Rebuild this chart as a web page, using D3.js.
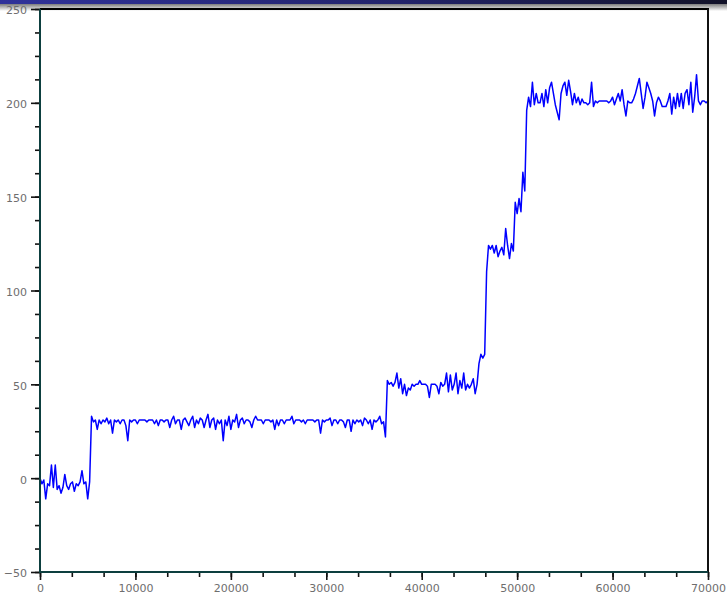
<!DOCTYPE html>
<html>
<head>
<meta charset="utf-8">
<script src="https://cdn.jsdelivr.net/npm/d3@7"></script>
<style>
  html, body { margin: 0; padding: 0; background: #ffffff; }
  svg { display: block; }
  .tick-label { font-family: "DejaVu Sans", sans-serif; font-size: 11px; fill: #6e6e6e; }
</style>
</head>
<body>
<svg id="chart" width="727" height="595"></svg>
<script>
// Sampling interval of the recorded signal (x units per sample)
const sampleStep = 200;

// Signal readings, grouped by operating level
const idleRun = [0, -3, -1, -11, -3, -4, 7, -5, 7, -6, -4, -8, -5, 2, -4, -6, -3, -2, -7, -3, -4, -2, 4, -3, -2, -11, -2];
const firstLevel = [
  33, 30, 31, 26, 31, 29, 31, 30, 32, 29,
  31, 24, 31, 30, 31, 29, 31, 31, 28, 20,
  31, 30, 31, 31, 29, 31, 31, 31, 31, 30,
  31, 31, 31, 29, 31, 28, 31, 31, 30, 31,
  31, 27, 31, 33, 29, 31, 31, 26, 31, 32,
  30, 28, 31, 33, 27, 31, 29, 32, 31, 27,
  31, 34, 27, 31, 32, 26, 31, 29, 31, 20,
  31, 28, 33, 26, 31, 30, 34, 27, 31, 32,
  29, 31, 31, 30, 27, 31, 33, 31, 31, 31,
  29, 31, 31, 31, 30, 31, 26, 31, 28, 31,
  31, 29, 31, 31, 31, 33, 29, 31, 31, 31,
  30, 31, 29, 31, 31, 31, 31, 30, 31, 31,
  24, 31, 30, 31, 31, 32, 28, 31, 31, 29,
  31, 31, 30, 27, 31, 31, 25, 31, 29, 31,
  30, 31, 28, 32, 31, 29, 31, 26, 31, 30,
  31, 33, 29, 30, 22
];
const secondLevel = [
  52, 50, 51, 49, 51, 56, 48, 53, 45, 50,
  44, 48, 47, 50, 49, 50, 50, 52, 50, 50,
  50, 49, 43, 50, 50, 50, 49, 45, 51, 49,
  50, 56, 46, 55, 47, 50, 56, 45, 52, 48,
  56, 47, 50, 48, 50, 53, 45, 50,
  61, 66, 64, 66, 110
];
const thirdLevel = [124, 122, 124, 120, 124, 118, 121, 123, 119, 133, 124, 117, 125, 121];
const rampUp = [147, 141, 149, 142, 163, 153, 196, 203, 198, 211];
const topLevel = [
  199, 205, 200, 200, 205, 198, 207, 200, 208, 211,
  205, 199, 195, 191, 205, 209, 211, 204, 212, 206,
  199, 205, 200, 203, 199, 202, 200, 200, 199, 200,
  211, 198, 201, 200, 201, 201, 201, 201, 201, 200,
  201, 203, 199, 202, 205, 201, 207, 199, 193, 201,
  200, 200, 202, 205, 209, 213, 205, 197, 203, 211,
  208, 205, 201, 193, 200, 203, 201, 198, 198, 198,
  201, 205, 194, 203, 197, 205, 198, 205, 197, 205,
  207, 199, 211, 195, 203, 215, 201, 199, 201, 201,
  200, 201
];

// Axis ticks
const xTicks = [0, 10000, 20000, 30000, 40000, 50000, 60000, 70000];
const xMinorTicks = d3.range(0, 70001, 10000 / 3);
const yTicks = [-50, 0, 50, 100, 150, 200, 250];
const yMinorTicks = d3.range(-50, 250.01, 12.5);

const signal = [].concat(idleRun, firstLevel, secondLevel, thirdLevel, rampUp, topLevel)
  .map((v, i) => ({ x: i * sampleStep, y: v }));

const svg = d3.select("#chart");
const W = 727;
const plot = { left: 40, right: 708, top: 9, bottom: 572 };

const x = d3.scaleLinear().domain([0, 70000]).range([plot.left, plot.right]);
const y = d3.scaleLinear().domain([-50, 250]).range([plot.bottom, plot.top]);

// Window header band
const defs = svg.append("defs");
const hg = defs.append("linearGradient").attr("id", "hdr").attr("x1", 0).attr("x2", 1).attr("y1", 0).attr("y2", 0);
hg.append("stop").attr("offset", "0%").attr("stop-color", "#30329a");
hg.append("stop").attr("offset", "55%").attr("stop-color", "#22236a");
hg.append("stop").attr("offset", "100%").attr("stop-color", "#121228");
const sg = defs.append("linearGradient").attr("id", "shade").attr("x1", 0).attr("x2", 0).attr("y1", 0).attr("y2", 1);
sg.append("stop").attr("offset", "0%").attr("stop-color", "#7c7c7c");
sg.append("stop").attr("offset", "100%").attr("stop-color", "#ffffff");

svg.append("rect").attr("x", 0).attr("y", 4).attr("width", W).attr("height", 7).attr("fill", "url(#shade)");
svg.append("rect").attr("x", 0).attr("y", 0).attr("width", W).attr("height", 4).attr("fill", "url(#hdr)");

// Signal trace
svg.append("path")
  .datum(signal)
  .attr("fill", "none")
  .attr("stroke", "#0000ff")
  .attr("stroke-width", 1.5)
  .attr("stroke-linejoin", "round")
  .attr("d", d3.line().x(d => x(d.x)).y(d => y(d.y)));

// Frame: top and right borders
svg.append("line").attr("x1", plot.left).attr("x2", plot.right + 1).attr("y1", plot.top).attr("y2", plot.top)
  .attr("stroke", "#000").attr("stroke-width", 2);
svg.append("line").attr("x1", plot.right).attr("x2", plot.right).attr("y1", plot.top).attr("y2", plot.bottom)
  .attr("stroke", "#111").attr("stroke-width", 2);

// Y axis: minor and major ticks
const yAxisG = svg.append("g");
yAxisG.append("g")
  .attr("transform", `translate(${plot.left},0)`)
  .call(d3.axisLeft(y).tickValues(yMinorTicks).tickSize(5).tickFormat(""))
  .call(g => g.select(".domain").remove())
  .selectAll("line").attr("stroke", "#111").attr("stroke-width", 1.6);
yAxisG.append("g")
  .attr("transform", `translate(${plot.left},0)`)
  .call(d3.axisLeft(y).tickValues(yTicks).tickSize(9).tickPadding(4).tickFormat(d3.format("d")))
  .call(g => g.select(".domain").remove())
  .call(g => g.selectAll("line").attr("stroke", "#111").attr("stroke-width", 1.6))
  .call(g => g.selectAll("text").attr("class", "tick-label").attr("dy", "0.45em")
    .text(d => d < 0 ? "\u2212" + Math.abs(d) : d));

// X axis: minor and major ticks
const xAxisG = svg.append("g");
xAxisG.append("g")
  .attr("transform", `translate(0,${plot.bottom})`)
  .call(d3.axisBottom(x).tickValues(xMinorTicks).tickSize(5).tickFormat(""))
  .call(g => g.select(".domain").remove())
  .selectAll("line").attr("stroke", "#111").attr("stroke-width", 1.6);
xAxisG.append("g")
  .attr("transform", `translate(0,${plot.bottom})`)
  .call(d3.axisBottom(x).tickValues(xTicks).tickSize(8).tickPadding(4).tickFormat(d3.format("d")))
  .call(g => g.select(".domain").remove())
  .call(g => g.selectAll("line").attr("stroke", "#111").attr("stroke-width", 1.6))
  .call(g => g.selectAll("text").attr("class", "tick-label"));

// Axis spines
svg.append("line").attr("x1", plot.left).attr("x2", plot.left).attr("y1", plot.top).attr("y2", plot.bottom + 1)
  .attr("stroke", "#0d3f3f").attr("stroke-width", 2);
svg.append("line").attr("x1", plot.left).attr("x2", plot.right).attr("y1", plot.bottom).attr("y2", plot.bottom)
  .attr("stroke", "#0d3f3f").attr("stroke-width", 2);
</script>
</body>
</html>
